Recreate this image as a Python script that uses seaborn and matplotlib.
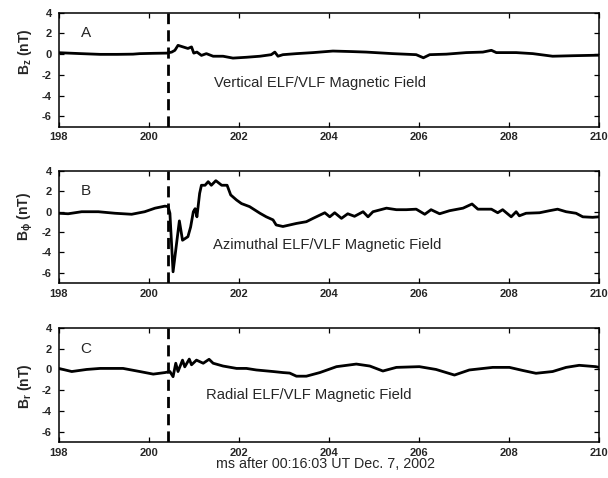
import numpy as np
import pandas as pd
import matplotlib
matplotlib.use("Agg")
import matplotlib.pyplot as plt
import seaborn as sns

# ---- data ----
tA = [198.0, 198.5, 198.92, 199.3, 199.65, 199.8, 200.1, 200.4, 200.51, 200.58, 200.65, 200.76,
      200.87, 200.95, 201.0, 201.07, 201.17, 201.28, 201.43, 201.65, 201.87, 202.17, 202.47,
      202.72, 202.8, 202.87, 202.98, 203.28, 203.65, 204.09, 204.5, 204.83, 205.42, 205.94,
      206.1, 206.24, 206.61, 207.05, 207.42, 207.61, 207.72, 208.16, 208.53, 208.97, 209.42, 210.0]
vA = [0.14, 0.05, -0.02, -0.02, 0.0, 0.05, 0.08, 0.1, 0.2, 0.37, 0.85, 0.7,
      0.55, 0.7, 0.1, 0.2, -0.12, 0.05, -0.2, -0.2, -0.38, -0.3, -0.2,
      -0.05, 0.2, -0.2, -0.05, 0.05, 0.15, 0.3, 0.25, 0.2, 0.05, -0.05,
      -0.35, -0.05, 0.0, 0.15, 0.2, 0.37, 0.15, 0.15, 0.05, -0.2, -0.15, -0.1]

tB = [198.0, 198.21, 198.51, 198.88, 199.25, 199.62, 199.91, 200.14, 200.36, 200.43, 200.47,
      200.54, 200.68, 200.75, 200.87, 200.93, 200.99, 201.03, 201.07, 201.13, 201.17, 201.25,
      201.32, 201.39, 201.49, 201.62, 201.74, 201.82, 201.95, 202.06, 202.24, 202.47, 202.61,
      202.76, 202.83, 202.98, 203.13, 203.28, 203.5, 203.65, 203.91, 204.02, 204.13, 204.28,
      204.42, 204.57, 204.76, 204.87, 204.98, 205.28, 205.5, 205.72, 205.94, 206.13, 206.27,
      206.46, 206.68, 206.98, 207.18, 207.31, 207.61, 207.75, 207.86, 208.05, 208.16, 208.23,
      208.38, 208.68, 208.9, 209.08, 209.27, 209.49, 209.64, 209.86, 210.0]
vB = [-0.15, -0.2, 0.0, 0.0, -0.15, -0.25, 0.0, 0.35, 0.55, 0.5, -0.15,
      -5.9, -0.9, -2.8, -2.45, -1.5, 0.0, 0.3, -0.5, 1.8, 2.6, 2.6,
      2.95, 2.6, 3.05, 2.6, 2.6, 1.65, 1.15, 0.8, 0.5, -0.15, -0.5,
      -0.8, -1.3, -1.45, -1.3, -1.15, -0.98, -0.65, -0.1, -0.5, -0.1, -0.65,
      -0.2, -0.45, 0.0, -0.5, 0.0, 0.35, 0.2, 0.2, 0.25, -0.25, 0.2,
      -0.2, 0.1, 0.35, 0.76, 0.25, 0.25, -0.1, 0.2, -0.5, 0.0, -0.4,
      -0.15, -0.1, 0.1, 0.25, 0.0, -0.15, -0.5, -0.55, -0.5]

tC = [198.0, 198.29, 198.62, 198.92, 199.43, 199.8, 200.1, 200.36, 200.47, 200.54, 200.6,
      200.65, 200.75, 200.8, 200.9, 200.95, 201.06, 201.21, 201.34, 201.43, 201.65, 201.95,
      202.17, 202.39, 202.76, 202.98, 203.13, 203.28, 203.5, 203.8, 204.17, 204.61, 204.91,
      205.2, 205.5, 206.01, 206.38, 206.79, 207.12, 207.64, 208.01, 208.31, 208.6, 208.97,
      209.27, 209.56, 209.93, 210.0]
vC = [0.1, -0.2, 0.0, 0.1, 0.1, -0.2, -0.45, -0.3, -0.2, -0.7, 0.6,
      -0.2, 0.9, 0.25, 1.0, 0.45, 0.9, 0.6, 0.98, 0.6, 0.33, 0.1,
      0.1, -0.05, -0.2, -0.3, -0.35, -0.65, -0.65, -0.3, 0.27, 0.52, 0.33,
      -0.15, 0.2, 0.27, 0.0, -0.54, -0.05, 0.2, 0.2, -0.1, -0.37, -0.2,
      0.2, 0.4, 0.27, 0.2]

panel_letters = ["A", "B", "C"]
panel_titles = ["Vertical ELF/VLF Magnetic Field",
                "Azimuthal ELF/VLF Magnetic Field",
                "Radial ELF/VLF Magnetic Field"]
ylabels = [r"B$_z$ (nT)", r"B$_\phi$ (nT)", r"B$_r$ (nT)"]
xticks = [198, 200, 202, 204, 206, 208, 210]
yticks = [-6, -4, -2, 0, 2, 4]
onset = 200.42
xlabel = "ms after 00:16:03 UT Dec. 7, 2002"

# ---- style ----
sns.set_theme(style="ticks")
plt.rcParams["font.family"] = ["Liberation Sans", "DejaVu Sans"]
plt.rcParams["mathtext.fontset"] = "custom"
plt.rcParams["mathtext.rm"] = "Liberation Sans:bold"
plt.rcParams["mathtext.it"] = "Liberation Sans:bold"
plt.rcParams["mathtext.bf"] = "Liberation Sans:bold"
plt.rcParams["xtick.direction"] = "in"
plt.rcParams["ytick.direction"] = "in"

fig = plt.figure(figsize=(6.08, 4.78), dpi=100)
fig.patch.set_facecolor("white")

W, H = 608.0, 478.0
left, right = 58.7 / W, 599.0 / W
boxes = [(12.7, 126.7), (171.0, 283.0), (328.0, 442.0)]
series = [(tA, vA), (tB, vB), (tC, vC)]
title_pos = [(203.81, -2.75), (203.97, -3.27), (203.55, -2.47)]
ylabel_y = [52, 216, 386]

for i, ((top, bot), (t, v)) in enumerate(zip(boxes, series)):
    ax = fig.add_axes([left, 1 - bot / H, right - left, (bot - top) / H])
    df = pd.DataFrame({"t": t, "v": v})
    sns.lineplot(data=df, x="t", y="v", ax=ax, color="black", linewidth=2.0,
                 estimator=None, sort=False)
    ax.axvline(onset, color="black", linestyle=(0, (4, 2.2)), linewidth=2.0)
    ax.set_xlim(198, 210)
    ax.set_ylim(-7, 4)
    ax.set_xticks(xticks)
    ax.set_yticks(yticks)
    ax.set_xticklabels([str(x) for x in xticks], fontsize=8, fontweight="bold")
    ax.set_yticklabels([str(y) for y in yticks], fontsize=8, fontweight="bold")
    ax.tick_params(axis="x", which="both", top=True, length=3.5,
                   width=0.9, pad=4, color="black")
    ax.tick_params(axis="y", which="both", right=True, length=3.5,
                   width=0.9, pad=5, color="black")
    ax.set_xlabel("")
    ax.set_ylabel("")
    for s in ax.spines.values():
        s.set_visible(True)
        s.set_linewidth(1.1)
        s.set_color("black")
    ax.set_facecolor("white")
    ax.grid(False)
    ax.text(198.6, 2.0, panel_letters[i], fontsize=11, ha="center", va="center")
    ax.text(title_pos[i][0], title_pos[i][1], panel_titles[i], fontsize=10.6,
            ha="center", va="center")
    fig.text(25 / W, 1 - ylabel_y[i] / H, ylabels[i], rotation=90, fontsize=10,
             fontweight="bold", ha="center", va="center")

fig.text(326 / W, 1 - 464 / H, xlabel, fontsize=10.3, ha="center", va="center")

fig.savefig("out.png", dpi=100, facecolor="white")
